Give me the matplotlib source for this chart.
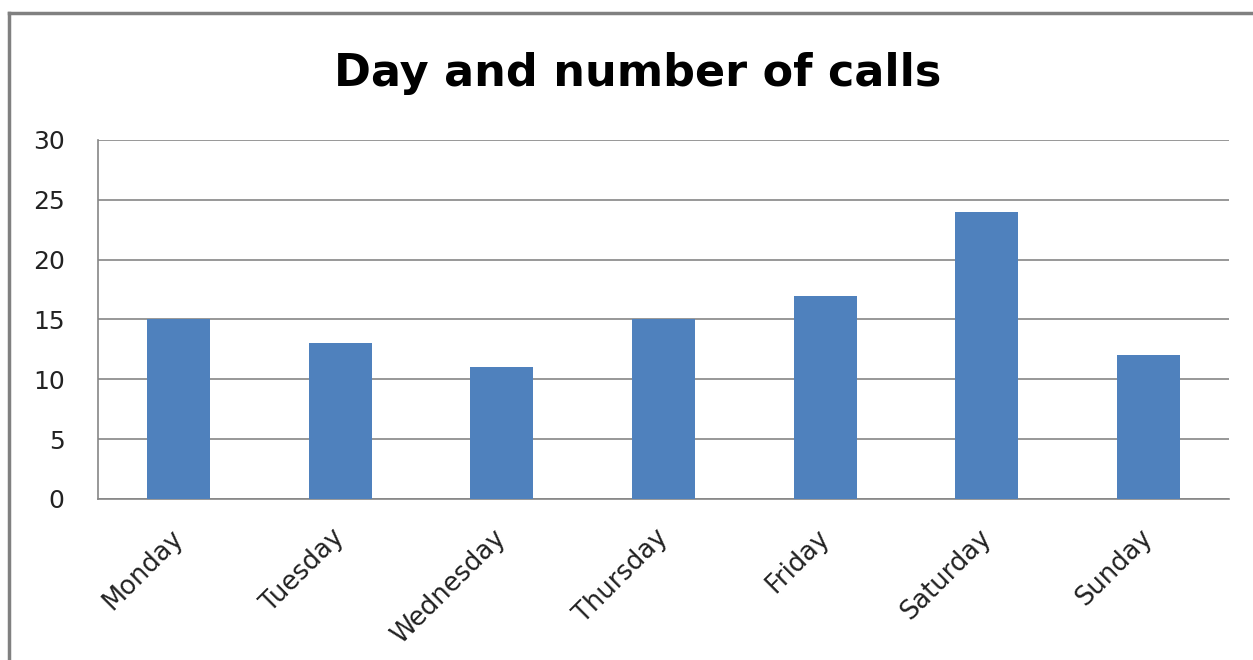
import matplotlib.pyplot as plt
from matplotlib.lines import Line2D

days = ['Monday', 'Tuesday', 'Wednesday', 'Thursday', 'Friday', 'Saturday', 'Sunday']
calls = [15, 13, 11, 15, 17, 24, 12]

plt.rcParams['font.family'] = ['DejaVu Sans']

fig = plt.figure(figsize=(12.53, 6.60), dpi=100)
ax = fig.add_axes([0.0782, 0.244, 0.9028, 0.544])

x = range(len(days))
ax.bar(x, calls, width=0.39, color='#4F81BD', zorder=3)

ax.set_xlim(-0.5, len(days) - 0.5)
ax.set_ylim(0, 30)
ax.set_yticks(range(0, 31, 5))
ax.set_xticks(list(x))
ax.set_xticklabels(days, rotation=45, ha='right', va='center', rotation_mode='anchor')
ax.tick_params(axis='x', length=0, pad=25, labelsize=18.5, labelcolor='#222222')
ax.tick_params(axis='y', length=0, pad=24, labelsize=18, labelcolor='#222222')

ax.grid(axis='y', color='#868686', linewidth=1.2, zorder=0)
for s in ['top', 'right']:
    ax.spines[s].set_visible(False)
ax.spines['left'].set_color('#868686')
ax.spines['bottom'].set_color('#868686')
ax.spines['left'].set_linewidth(1.2)
ax.spines['bottom'].set_linewidth(1.2)

fig.text(0.509, 1 - 86 / 660, 'Day and number of calls', ha='center', va='baseline',
         fontsize=32, fontweight='bold')

# outer chart border (left and top only visible)
fig.add_artist(Line2D([0.0075, 0.0075], [0, 0.98], color='#808080', lw=2.5))
fig.add_artist(Line2D([0.0075, 1.0], [0.98, 0.98], color='#808080', lw=2.5))

fig.savefig('out.png', dpi=100)
